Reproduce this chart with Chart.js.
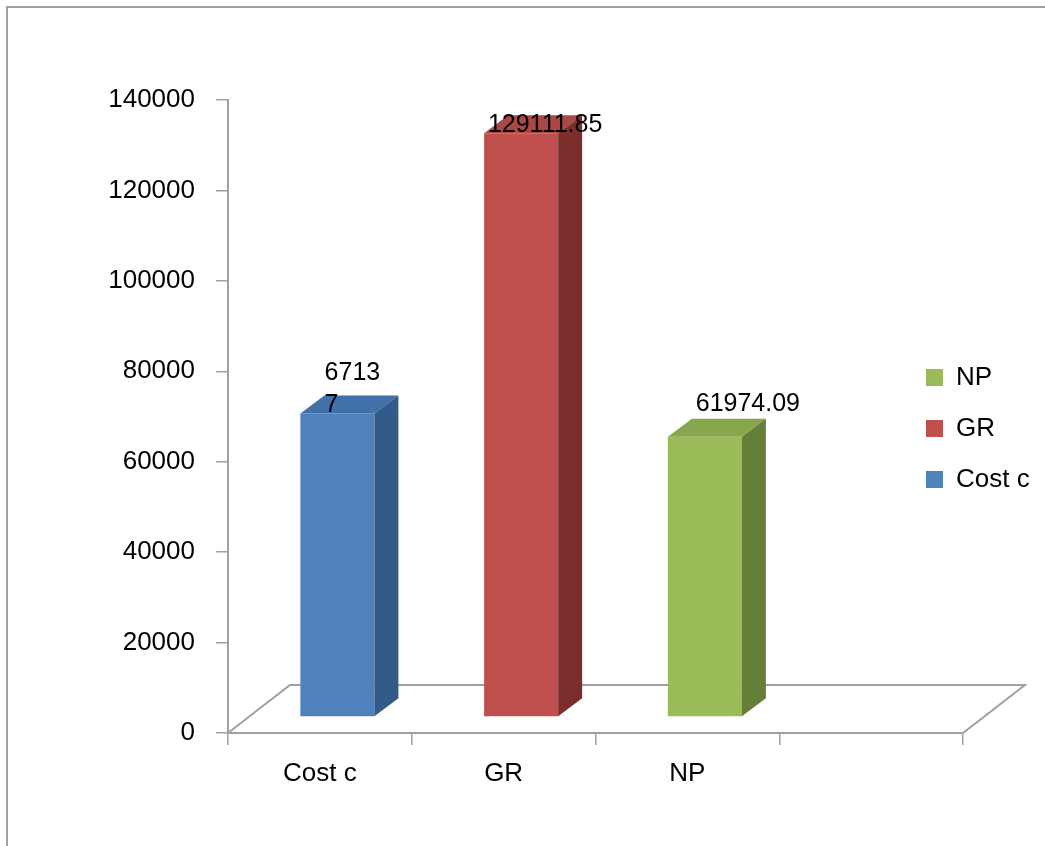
<!DOCTYPE html>
<html>
<head>
<meta charset="utf-8">
<script src="https://cdn.jsdelivr.net/npm/chart.js@4.4.0/dist/chart.umd.min.js"></script>
<style>
  html, body { margin: 0; padding: 0; background: #fff; overflow: hidden; }
  #wrap { position: relative; width: 1045px; height: 846px; }
  #frame { position: absolute; left: 6px; top: 6px; width: 1100px; height: 900px;
           border: 2px solid #a0a0a0; pointer-events: none; box-sizing: border-box; }
  canvas { position: absolute; left: 0; top: 0; }
</style>
</head>
<body>
<div id="wrap">
  <canvas id="c" width="1045" height="846"></canvas>
  <div id="frame"></div>
</div>
<script>
// ---- data ----
const categories = ['Cost c', 'GR', 'NP', ''];
const seriesNames = ['Cost c', 'GR', 'NP'];
const costValues = [67137, null, null, null];
const grValues = [null, 129111.85, null, null];
const npValues = [null, null, 61974.09, null];
const dataLabelLines = [['6713', '7'], ['129111.85'], ['61974.09']];
const yTicks = [0, 20000, 40000, 60000, 80000, 100000, 120000, 140000];

// ---- style ----
const FONT = 'Liberation Sans';
const faceColors = {
  front: ['#4f81bd', '#c0504d', '#9bbb59'],
  top:   ['#4270a8', '#ab4744', '#88a64c'],
  side:  ['#345a8a', '#7b2e2c', '#667f38']
};
const FRONT_DX = 17.5, FRONT_DY = -16;   // front face offset into the floor
const DEPTH_DX = 24, DEPTH_DY = -18;     // bar depth
const FLOOR_DX = 62, FLOOR_DY = -48;     // floor depth
const AXIS_COLOR = '#a0a0a0';
const labelNudge = [-9, 0, 19];

const threeD = {
  id: 'threeD',
  beforeDatasetsDraw(chart) {
    const ctx = chart.ctx, a = chart.chartArea;
    const y0 = chart.scales.y.getPixelForValue(0);
    ctx.save();
    ctx.strokeStyle = AXIS_COLOR;
    ctx.lineWidth = 2;
    ctx.beginPath();
    ctx.moveTo(a.left, y0);
    ctx.lineTo(a.left + FLOOR_DX, y0 + FLOOR_DY);
    ctx.lineTo(a.right + FLOOR_DX, y0 + FLOOR_DY);
    ctx.lineTo(a.right, y0);
    ctx.stroke();
    ctx.restore();
  },
  beforeDatasetDraw(chart) {
    chart.ctx.save();
    chart.ctx.translate(FRONT_DX, FRONT_DY);
  },
  afterDatasetDraw(chart, args) {
    const ctx = chart.ctx;
    const meta = args.meta;
    const di = args.index;
    meta.data.forEach((bar, i) => {
      const v = chart.data.datasets[di].data[i];
      if (v === null || v === undefined) return;
      const p = bar.getProps(['x', 'y', 'base', 'width'], true);
      const l = p.x - p.width / 2, r = p.x + p.width / 2;
      ctx.fillStyle = faceColors.top[di];
      ctx.beginPath();
      ctx.moveTo(l, p.y);
      ctx.lineTo(r, p.y);
      ctx.lineTo(r + DEPTH_DX, p.y + DEPTH_DY);
      ctx.lineTo(l + DEPTH_DX, p.y + DEPTH_DY);
      ctx.closePath();
      ctx.fill();
      ctx.fillStyle = faceColors.side[di];
      ctx.beginPath();
      ctx.moveTo(r, p.y);
      ctx.lineTo(r + DEPTH_DX, p.y + DEPTH_DY);
      ctx.lineTo(r + DEPTH_DX, p.base + DEPTH_DY);
      ctx.lineTo(r, p.base);
      ctx.closePath();
      ctx.fill();
    });
    ctx.restore();
  },
  afterDatasetsDraw(chart) {
    const ctx = chart.ctx, a = chart.chartArea;
    ctx.save();
    ctx.font = '25px "' + FONT + '"';
    ctx.fillStyle = '#000';
    ctx.textAlign = 'left';
    ctx.textBaseline = 'alphabetic';
    chart.data.datasets.forEach((ds, di) => {
      const meta = chart.getDatasetMeta(di);
      meta.data.forEach((bar, i) => {
        const v = ds.data[i];
        if (v === null || v === undefined) return;
        const p = bar.getProps(['x', 'y', 'width'], true);
        const lines = dataLabelLines[di];
        const lh = 32;
        const frontTop = p.y + FRONT_DY;
        let lastBase = frontTop - 26 + 25 * (lines.length - 1);
        lastBase = Math.max(lastBase, a.top + lh * lines.length);
        const wMax = Math.max(...lines.map(t => ctx.measureText(t).width));
        const cx = p.x + FRONT_DX + DEPTH_DX + labelNudge[di];
        const left = cx - wMax / 2;
        lines.forEach((t, k) => {
          ctx.fillText(t, left, lastBase - lh * (lines.length - 1 - k));
        });
      });
    });
    ctx.restore();
  },
  beforeDraw(chart) {
    const lg = chart.legend;
    if (!lg) return;
    const pad = 25;
    lg.left = 926 - pad;
    lg.right = lg.left + 140;
    lg.top = 364.5 - pad;
    lg.bottom = lg.top + 400;
  }
};

new Chart(document.getElementById('c'), {
  type: 'bar',
  data: {
    labels: categories,
    datasets: [
      { label: seriesNames[0], data: costValues, backgroundColor: faceColors.front[0] },
      { label: seriesNames[1], data: grValues, backgroundColor: faceColors.front[1] },
      { label: seriesNames[2], data: npValues, backgroundColor: faceColors.front[2] }
    ]
  },
  options: {
    responsive: false,
    animation: false,
    devicePixelRatio: 1,
    layout: { padding: { left: 0, right: 82, top: 100, bottom: 0 } },
    datasets: { bar: { grouped: false, categoryPercentage: 1, barPercentage: 0.403, borderWidth: 0, clip: false } },
    plugins: {
      tooltip: { enabled: false },
      legend: {
        position: 'chartArea',
        align: 'start',
        reverse: true,
        labels: {
          boxWidth: 17, boxHeight: 17, padding: 25,
          color: '#000',
          font: { family: FONT, size: 26 }
        }
      }
    },
    scales: {
      x: {
        offset: true,
        grid: { offset: true, drawOnChartArea: false, drawTicks: true, tickLength: 12, color: AXIS_COLOR, lineWidth: 1.5 },
        border: { display: true, color: AXIS_COLOR, width: 2 },
        ticks: { color: '#000', padding: 13, font: { family: FONT, size: 26 }, maxRotation: 0, autoSkip: false },
        afterFit(s) { s.height = 113; }
      },
      y: {
        min: yTicks[0],
        max: yTicks[yTicks.length - 1],
        afterBuildTicks(s) { s.ticks = yTicks.map(v => ({ value: v })); },
        grid: { drawOnChartArea: false, drawTicks: true, tickLength: 12, color: AXIS_COLOR, lineWidth: 1.5 },
        border: { display: true, color: AXIS_COLOR, width: 2 },
        ticks: { color: '#000', padding: 21, font: { family: FONT, size: 26 }, callback: v => String(v) },
        afterFit(s) { s.width = 228; }
      }
    }
  },
  plugins: [threeD]
});
</script>
</body>
</html>
